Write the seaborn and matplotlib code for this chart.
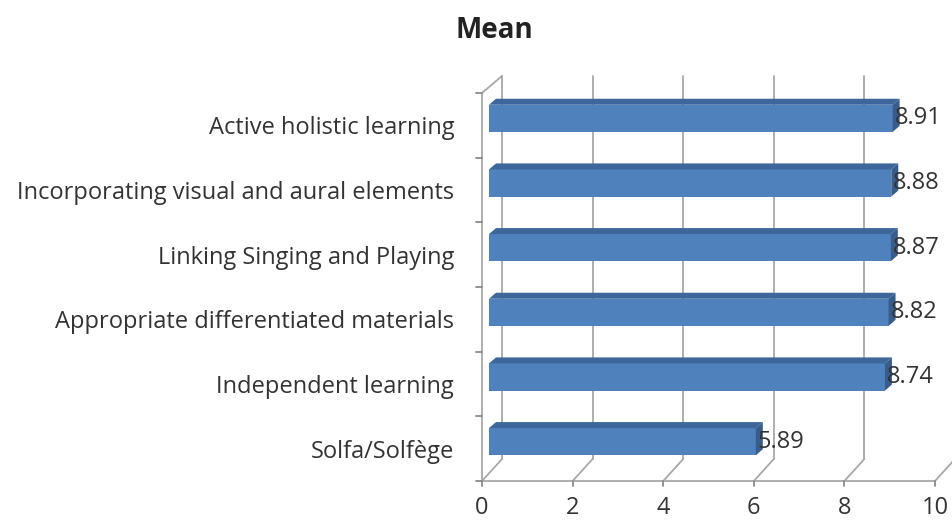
import matplotlib
matplotlib.use("Agg")
import matplotlib.pyplot as plt
from matplotlib.patches import Polygon
import seaborn as sns
import pandas as pd

categories = [
    "Active holistic learning",
    "Incorporating visual and aural elements",
    "Linking Singing and Playing",
    "Appropriate differentiated materials",
    "Independent learning",
    "Solfa/Solfège",
]
means = [8.91, 8.88, 8.87, 8.82, 8.74, 5.89]
value_labels = ["8.91", "8.88", "8.87", "8.82", "8.74", "5.89"]
x_ticks = [0, 2, 4, 6, 8, 10]

sns.set_theme(style="white")
plt.rcParams["font.family"] = ["Open Sans", "DejaVu Sans"]

W, H, DPI = 953, 524, 100
fig = plt.figure(figsize=(W / DPI, H / DPI), dpi=DPI)

# front plane of the 3-D box, in pixels
px_left, px_right, px_top, px_bottom = 482, 935, 93, 481
ax = fig.add_axes([px_left / W, 1 - px_bottom / H,
                   (px_right - px_left) / W, (px_bottom - px_top) / H])

df = pd.DataFrame({"category": categories, "mean": means})
face = "#4F81BD"
top_col = "#3D669A"
side_col = "#385D8C"
sns.barplot(data=df, x="mean", y="category", orient="h", color=face,
            width=0.42, saturation=1, ax=ax, edgecolor="none")

ax.set_xlim(0, 10)
ax.set_ylim(5.5, -0.5)

# pixel -> data conversions
sx = 10 / (px_right - px_left)
sy = 6 / (px_bottom - px_top)

grid_col = "#A8A8A8"
axis_col = "#8A8A8A"
text_col = "#333333"
fs = 17

# depth of the box (pixels)
floor_dx, floor_dy = 20, 22
top_dx, top_dy = 20, 17

# back wall gridlines and floor diagonals
for t in x_ticks:
    xb = t + floor_dx * sx
    ax.plot([xb, xb], [5.5 - floor_dy * sy, -0.5 - top_dy * sy],
            color=grid_col, lw=1.3, clip_on=False, zorder=0)
    ax.plot([t, xb], [5.5, 5.5 - floor_dy * sy],
            color=grid_col, lw=1.3, clip_on=False, zorder=0)
    ax.plot([t, t], [5.5, 5.5 + 5 * sy], color=axis_col, lw=1.3, clip_on=False)

# left wall
ax.plot([0, 0], [-0.5, 5.5], color=grid_col, lw=1.3, clip_on=False, zorder=0)
ax.plot([0, top_dx * sx], [-0.5, -0.5 - top_dy * sy], color=grid_col, lw=1.3,
        clip_on=False, zorder=0)
for k in range(7):
    yb = -0.5 + k
    ax.plot([-6 * sx, 0], [yb, yb], color=axis_col, lw=1.3, clip_on=False)
# front floor edge
ax.plot([0, 10], [5.5, 5.5], color=grid_col, lw=1.3, clip_on=False, zorder=0)

# bars sit in the middle of the depth; add top and end faces
bar_dx, bar_dy = 7, 7
depth_dx, depth_dy = 7, 6
for patch, val, lab in zip(ax.patches, means, value_labels):
    y0 = patch.get_y()
    h = patch.get_height()
    ox, oy = bar_dx * sx, -bar_dy * sy
    patch.set_x(patch.get_x() + ox)
    patch.set_y(y0 + oy)
    patch.set_clip_on(False)
    x0 = patch.get_x()
    x1 = x0 + patch.get_width()
    yt = y0 + oy            # top edge (smaller data y = higher)
    yb = yt + h
    ddx, ddy = depth_dx * sx, -depth_dy * sy
    ax.add_patch(Polygon([(x0, yt), (x1, yt), (x1 + ddx, yt + ddy), (x0 + ddx, yt + ddy)],
                         closed=True, facecolor=top_col, edgecolor="none",
                         clip_on=False, zorder=3))
    ax.add_patch(Polygon([(x1, yt), (x1, yb), (x1 + ddx, yb + ddy), (x1 + ddx, yt + ddy)],
                         closed=True, facecolor=side_col, edgecolor="none",
                         clip_on=False, zorder=3))
    ax.text(x1 + 2 * sx, (yt + yb) / 2, lab, ha="left", va="center",
            fontsize=fs, color=text_col, clip_on=False, zorder=4)

for s in ax.spines.values():
    s.set_visible(False)
ax.set_xlabel("")
ax.set_ylabel("")
ax.set_xticks(x_ticks)
ax.set_xticklabels([str(t) for t in x_ticks])
ax.tick_params(axis="x", length=0, pad=11, labelsize=fs, labelcolor=text_col)
ax.tick_params(axis="y", length=0, pad=20, labelsize=fs, labelcolor=text_col)

fig.text(494 / W, 1 - 31 / H, "Mean", ha="center", va="center",
         fontsize=20, fontweight="bold", color="#222222")

fig.savefig("out.png", dpi=DPI, facecolor="white")
